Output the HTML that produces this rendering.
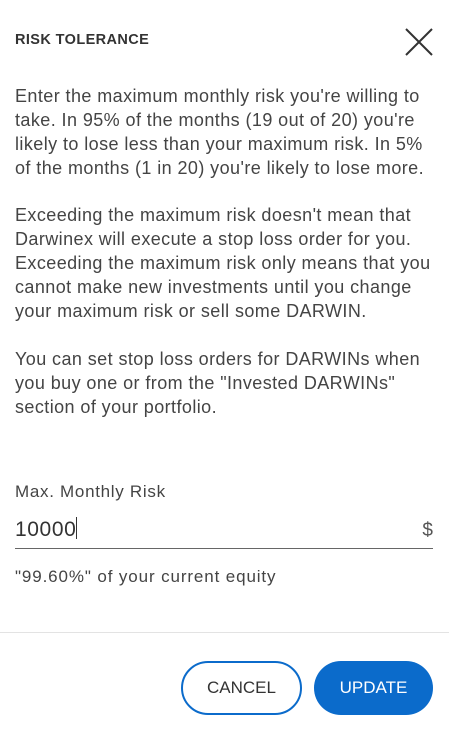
<!DOCTYPE html>
<html><head><meta charset="utf-8"><style>
body{margin:0;width:449px;height:736px;background:#fff;font-family:"Liberation Sans",sans-serif;color:#444;position:relative;overflow:hidden}
.a{position:absolute;white-space:nowrap}
.p{left:15px;font-size:18px;letter-spacing:0.42px}
.btn{position:absolute;top:661px;height:54px;box-sizing:border-box;border-radius:27px;font-size:17px;display:flex;align-items:center;justify-content:center}
</style></head><body>
<div class="a" style="left:15px;top:32px;font-size:14.5px;font-weight:bold;color:#333;letter-spacing:0.4px">RISK TOLERANCE</div>
<svg class="a" style="left:405px;top:28px" width="28" height="28"><path d="M1 1L27 27M27 1L1 27" stroke="#333" stroke-width="2"/></svg>
<div>
<div class="a p" style="top:86px">Enter the maximum monthly risk you're willing to</div>
<div class="a p" style="top:110px">take. In 95% of the months (19 out of 20) you're</div>
<div class="a p" style="top:134px">likely to lose less than your maximum risk. In 5%</div>
<div class="a p" style="top:158px">of the months (1 in 20) you're likely to lose more.</div>
</div>
<div>
<div class="a p" style="top:205px">Exceeding the maximum risk doesn't mean that</div>
<div class="a p" style="top:229px">Darwinex will execute a stop loss order for you.</div>
<div class="a p" style="top:253px">Exceeding the maximum risk only means that you</div>
<div class="a p" style="top:277px">cannot make new investments until you change</div>
<div class="a p" style="top:301px">your maximum risk or sell some DARWIN.</div>
</div>
<div>
<div class="a p" style="top:349px">You can set stop loss orders for DARWINs when</div>
<div class="a p" style="top:373px">you buy one or from the "Invested DARWINs"</div>
<div class="a p" style="top:397px">section of your portfolio.</div>
</div>
<div class="a" style="left:15px;top:482px;font-size:17px;letter-spacing:0.7px">Max. Monthly Risk</div>
<div class="a" style="left:15px;top:517px;width:418px;height:31px;border-bottom:1px solid #666">
<span style="font-size:21px;color:#333;letter-spacing:0.6px">10000</span><span style="display:inline-block;width:1px;height:22px;background:#333;vertical-align:-3px"></span>
<span style="position:absolute;right:0;top:3px;font-size:19px;color:#555">$</span></div>
<div class="a" style="left:15px;top:567px;font-size:17px;letter-spacing:0.88px">"99.60%" of your current equity</div>
<div class="a" style="left:0;top:632px;width:449px;height:1px;background:#e3e3e3"></div>
<div class="btn" style="left:181px;width:121px;border:2px solid #0b6bcb;color:#333">CANCEL</div>
<div class="btn" style="left:314px;width:119px;background:#0b6bcb;color:#fff">UPDATE</div>
</body></html>
